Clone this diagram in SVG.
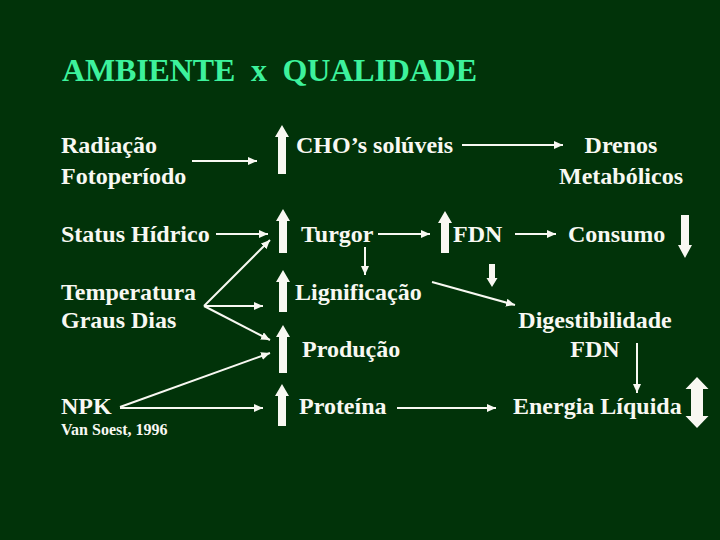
<svg xmlns="http://www.w3.org/2000/svg" width="720" height="540" viewBox="0 0 720 540">
<defs>
<style>
.t{font-family:"Liberation Serif","Times New Roman",serif;font-weight:bold;font-size:24px;fill:#f8f8f2}
.title{font-family:"Liberation Serif","Times New Roman",serif;font-weight:bold;font-size:32px;fill:#3df29c}
.small{font-size:16px}
.ln{stroke:#f8f8f2;stroke-width:2;fill:none;marker-end:url(#ah)}
.blk{fill:#f8f8f2}
</style>
<marker id="ah" markerUnits="userSpaceOnUse" markerWidth="10" markerHeight="8" refX="9" refY="4" orient="auto">
<path d="M0,0 L9,4 L0,8 Z" fill="#f8f8f2"/>
</marker>
</defs>
<rect width="720" height="540" fill="#013309"/>
<text class="title" x="62" y="81" textLength="415" lengthAdjust="spacing" xml:space="preserve">AMBIENTE  x  QUALIDADE</text>

<g id="radiacao"><text class="t" x="61" y="153">Radiação</text><text class="t" x="61" y="184">Fotoperíodo</text></g>
<g id="cho"><text class="t" x="296" y="153">CHO’s solúveis</text></g>
<g id="drenos"><text class="t" x="621" y="153" text-anchor="middle">Drenos</text><text class="t" x="621" y="184" text-anchor="middle">Metabólicos</text></g>
<g id="status"><text class="t" x="61" y="242">Status Hídrico</text></g>
<g id="turgor"><text class="t" x="301" y="242">Turgor</text></g>
<g id="fdn"><text class="t" x="453" y="242">FDN</text></g>
<g id="consumo"><text class="t" x="568" y="242">Consumo</text></g>
<g id="temperatura"><text class="t" x="61" y="300">Temperatura</text><text class="t" x="61" y="328">Graus Dias</text></g>
<g id="lignificacao"><text class="t" x="295" y="300">Lignificação</text></g>
<g id="producao"><text class="t" x="302" y="357">Produção</text></g>
<g id="digestibilidade"><text class="t" x="595" y="328" text-anchor="middle">Digestibilidade</text><text class="t" x="595" y="357" text-anchor="middle">FDN</text></g>
<g id="npk"><text class="t" x="61" y="414">NPK</text></g>
<g id="proteina"><text class="t" x="299" y="414">Proteína</text></g>
<g id="energia"><text class="t" x="513" y="414">Energia Líquida</text></g>
<g id="ref"><text class="t small" x="61" y="435">Van Soest, 1996</text></g>

<g id="block-arrows">
<polygon class="blk" points="282,125 289,137 286,137 286,174 278,174 278,137 275,137"/>
<polygon class="blk" points="283,209 290,221 287,221 287,253 279,253 279,221 276,221"/>
<polygon class="blk" points="283,270 290,282 287,282 287,312 279,312 279,282 276,282"/>
<polygon class="blk" points="283,325 290,337 287,337 287,373 279,373 279,337 276,337"/>
<polygon class="blk" points="282,384 289,396 286,396 286,426 278,426 278,396 275,396"/>
<polygon class="blk" points="445,211 452,223 449,223 449,253 441,253 441,223 438,223"/>
<polygon class="blk" points="489,264 495,264 495,278 497.5,278 492,287 486.5,278 489,278"/>
<polygon class="blk" points="681,215 689,215 689,245 692,245 685,258 678,245 681,245"/>
<polygon class="blk" points="697,377 708.5,389 703,389 703,416 708.5,416 697,428 685.5,416 691,416 691,389 685.5,389"/>
</g>

<g id="connectors">
<line class="ln" x1="192" y1="161" x2="257" y2="161"/>
<line class="ln" x1="462" y1="145" x2="563" y2="145"/>
<line class="ln" x1="216" y1="234" x2="268" y2="234"/>
<line class="ln" x1="204" y1="306" x2="270" y2="240"/>
<line class="ln" x1="204" y1="306" x2="263" y2="306"/>
<line class="ln" x1="204" y1="306" x2="270" y2="340"/>
<line class="ln" x1="120" y1="407" x2="270" y2="353"/>
<line class="ln" x1="120" y1="408" x2="263" y2="408"/>
<line class="ln" x1="378" y1="234" x2="430" y2="234"/>
<line class="ln" x1="365" y1="247" x2="365" y2="275"/>
<line class="ln" x1="515" y1="234" x2="556" y2="234"/>
<line class="ln" x1="432" y1="282" x2="515" y2="305" stroke-width="3"/>
<line class="ln" x1="637" y1="343" x2="637" y2="393"/>
<line class="ln" x1="397" y1="408" x2="496" y2="408"/>
</g>
</svg>
